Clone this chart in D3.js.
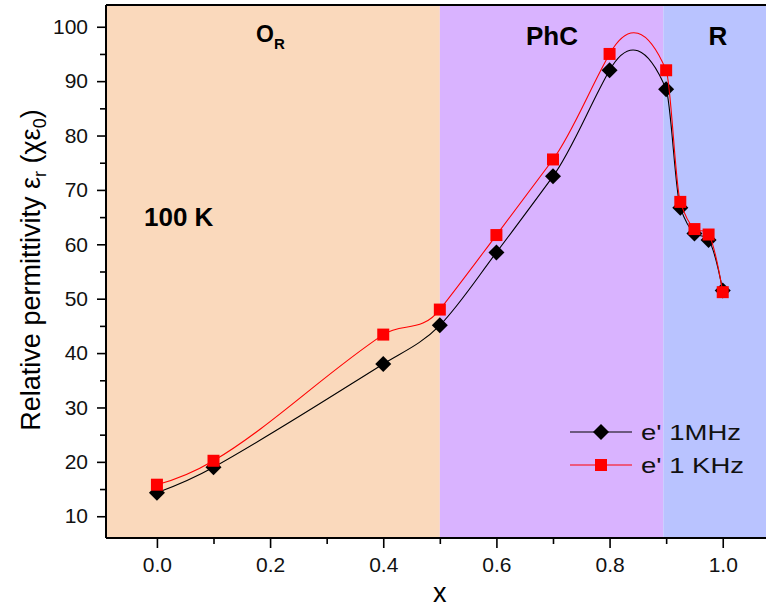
<!DOCTYPE html>
<meta charset="utf-8">
<script src="https://d3js.org/d3.v7.min.js"></script>
<style>
  body { margin: 0; background: #fff; }
  text { font-family: "Liberation Sans", Arial, sans-serif; }
</style>
<div id="chart"></div>
<script>

// composition x
var xs = [0.0, 0.1, 0.4, 0.5, 0.6, 0.7, 0.8, 0.9, 0.925, 0.95, 0.975, 1.0];
// e' at 1 MHz (black diamonds)
var e1MHz = [14.3, 19.0, 38.0, 45.1, 58.5, 72.5, 92.0, 88.5, 66.7, 62.0, 60.8, 51.5];
// e' at 1 kHz (red squares)
var e1KHz = [15.8, 20.2, 43.4, 48.0, 61.7, 75.6, 95.0, 92.0, 67.8, 62.8, 61.8, 51.2];

var regions = [
  {name: "O", sub: "R", x0: -0.09, x1: 0.5, color: "#fad9bc"},
  {name: "PhC", sub: "", x0: 0.5, x1: 0.895, color: "#d9b3ff"},
  {name: "R", sub: "", x0: 0.895, x1: 1.08, color: "#b9c3ff"}
];
var xTicks = [0.0, 0.2, 0.4, 0.6, 0.8, 1.0];
var yTicks = [10, 20, 30, 40, 50, 60, 70, 80, 90, 100];

var W = 766, H = 608;
var margin = {top: 5, left: 106, bottom: 70, right: -2};
var width = W - margin.left - margin.right,
    height = H - margin.top - margin.bottom;

var svg = d3.select("#chart").append("svg")
    .attr("width", W).attr("height", H);
var g = svg.append("g")
    .attr("transform", "translate(" + margin.left + "," + margin.top + ")");

var x = d3.scaleLinear().domain([-0.09, 1.08]).range([0, width]);
var y = d3.scaleLinear().domain([6, 104]).range([height, 0]);

// background regions
g.selectAll("rect.region")
  .data(regions)
  .enter().append("rect")
    .attr("class", "region")
    .attr("x", function(d) { return x(d.x0); })
    .attr("width", function(d) { return x(d.x1) - x(d.x0); })
    .attr("y", 0)
    .attr("height", height)
    .attr("fill", function(d) { return d.color; });

// region labels
g.append("text")
    .attr("x", 256 - margin.left).attr("y", 37)
    .style("font-size", "23px").style("font-weight", "bold")
    .text("O")
  .append("tspan")
    .attr("dy", 7).style("font-size", "15px")
    .text("R");
g.append("text")
    .attr("x", 552 - margin.left).attr("y", 40)
    .attr("text-anchor", "middle")
    .style("font-size", "26px").style("font-weight", "bold")
    .text("PhC");
g.append("text")
    .attr("x", 718 - margin.left).attr("y", 40)
    .attr("text-anchor", "middle")
    .style("font-size", "26px").style("font-weight", "bold")
    .text("R");

g.append("text")
    .attr("x", 144 - margin.left).attr("y", 226 - margin.top)
    .style("font-size", "26px").style("font-weight", "bold")
    .text("100 K");

// axes
var xAxis = g.append("g")
    .attr("transform", "translate(0," + height + ")")
    .call(d3.axisBottom(x).tickValues(xTicks).tickFormat(d3.format(".1f")).tickSize(10).tickPadding(9));
var xMinor = g.append("g")
    .attr("transform", "translate(0," + height + ")")
    .call(d3.axisBottom(x).tickValues([0.1, 0.3, 0.5, 0.7, 0.9]).tickFormat("").tickSize(6));
var yAxis = g.append("g")
    .call(d3.axisLeft(y).tickValues(yTicks).tickSize(9).tickPadding(9));
var yMinor = g.append("g")
    .call(d3.axisLeft(y).tickValues([15, 25, 35, 45, 55, 65, 75, 85, 95]).tickFormat("").tickSize(6));

[xAxis, xMinor, yAxis, yMinor].forEach(function(a) {
  a.select(".domain").remove();
  a.selectAll("line").attr("stroke", "#000").attr("stroke-width", 1.6);
  a.selectAll("text").style("font-size", "21px").attr("fill", "#111");
});

// frame
g.append("line").attr("x1", 0).attr("x2", width).attr("y1", 0).attr("y2", 0)
  .attr("stroke", "#000").attr("stroke-width", 2);
g.append("line").attr("x1", 0).attr("x2", width).attr("y1", height).attr("y2", height)
  .attr("stroke", "#000").attr("stroke-width", 2);
g.append("line").attr("x1", 0).attr("x2", 0).attr("y1", 0).attr("y2", height)
  .attr("stroke", "#000").attr("stroke-width", 2);

// axis titles
g.append("text")
    .attr("x", x(0.5)).attr("y", 602 - margin.top)
    .attr("text-anchor", "middle")
    .style("font-size", "27px")
    .text("x");

var yl = svg.append("text")
    .attr("transform", "translate(40,270) rotate(-90)")
    .attr("text-anchor", "middle")
    .style("font-size", "27px");
yl.append("tspan").text("Relative permittivity \u03b5");
yl.append("tspan").attr("dy", 6).style("font-size", "18px").text("r");
yl.append("tspan").attr("dy", -6).text(" (\u03c7\u03b5");
yl.append("tspan").attr("dy", 6).style("font-size", "18px").text("0");
yl.append("tspan").attr("dy", -6).text(")");

// series
var series = [
  {name: "e' 1MHz", values: e1MHz, color: "#000", shape: "diamond", len: 100},
  {name: "e' 1 KHz", values: e1KHz, color: "#ff0000", shape: "square", len: 103}
];

// Akima spline y(x) through screen points, drawn as bezier segments
function akimaPath(pts) {
  var n = pts.length, m = [];
  for (var i = 0; i < n - 1; i++)
    m.push((pts[i + 1][1] - pts[i][1]) / (pts[i + 1][0] - pts[i][0]));
  // pad two slopes on each end
  var mm = [];
  var a1 = 2 * m[0] - m[1], a0 = 2 * a1 - m[0];
  var b1 = 2 * m[n - 2] - m[n - 3], b2 = 2 * b1 - m[n - 2];
  mm = [a0, a1].concat(m, [b1, b2]);
  var t = [];
  for (var i = 0; i < n; i++) {
    var m0 = mm[i], m1 = mm[i + 1], m2 = mm[i + 2], m3 = mm[i + 3];
    var w1 = Math.abs(m3 - m2), w2 = Math.abs(m1 - m0);
    t.push(w1 + w2 < 1e-9 ? (m1 + m2) / 2 : (w1 * m1 + w2 * m2) / (w1 + w2));
  }
  var p = d3.path();
  p.moveTo(pts[0][0], pts[0][1]);
  for (var i = 0; i < n - 1; i++) {
    var h = (pts[i + 1][0] - pts[i][0]) / 3;
    p.bezierCurveTo(pts[i][0] + h, pts[i][1] + t[i] * h,
                    pts[i + 1][0] - h, pts[i + 1][1] - t[i + 1] * h,
                    pts[i + 1][0], pts[i + 1][1]);
  }
  return p.toString();
}

var diamond = "M0,-8L8,0L0,8L-8,0Z";
var square = "M-6,-6H6V6H-6Z";

series.forEach(function(s) {
  var pts = xs.map(function(v, i) { return [v, s.values[i]]; });
  g.append("path")
    .attr("fill", "none")
    .attr("stroke", s.color)
    .attr("stroke-width", 1.1)
    .attr("d", akimaPath(pts.map(function(d) { return [x(d[0]), y(d[1])]; })));
  g.selectAll(null)
    .data(pts)
    .enter().append("path")
      .attr("transform", function(d) { return "translate(" + x(d[0]) + "," + y(d[1]) + ")"; })
      .attr("d", s.shape == "diamond" ? diamond : square)
      .attr("fill", s.color);
});

// legend
var legend = g.selectAll("g.legend")
  .data(series)
  .enter().append("g")
    .attr("class", "legend")
    .attr("transform", function(d, i) { return "translate(" + (570 - margin.left) + "," + (432 - margin.top + i * 33) + ")"; });
legend.append("line")
    .attr("x1", 0).attr("x2", 62)
    .attr("stroke", function(d) { return d.color; })
    .attr("stroke-width", 1.1);
legend.append("path")
    .attr("transform", "translate(31,0)")
    .attr("d", function(d) { return d.shape == "diamond" ? diamond : square; })
    .attr("fill", function(d) { return d.color; });
legend.append("text")
    .attr("x", 71).attr("y", 8)
    .style("font-size", "22px")
    .attr("textLength", function(d) { return d.len; })
    .attr("lengthAdjust", "spacingAndGlyphs")
    .attr("fill", "#111")
    .text(function(d) { return d.name; });

</script>
